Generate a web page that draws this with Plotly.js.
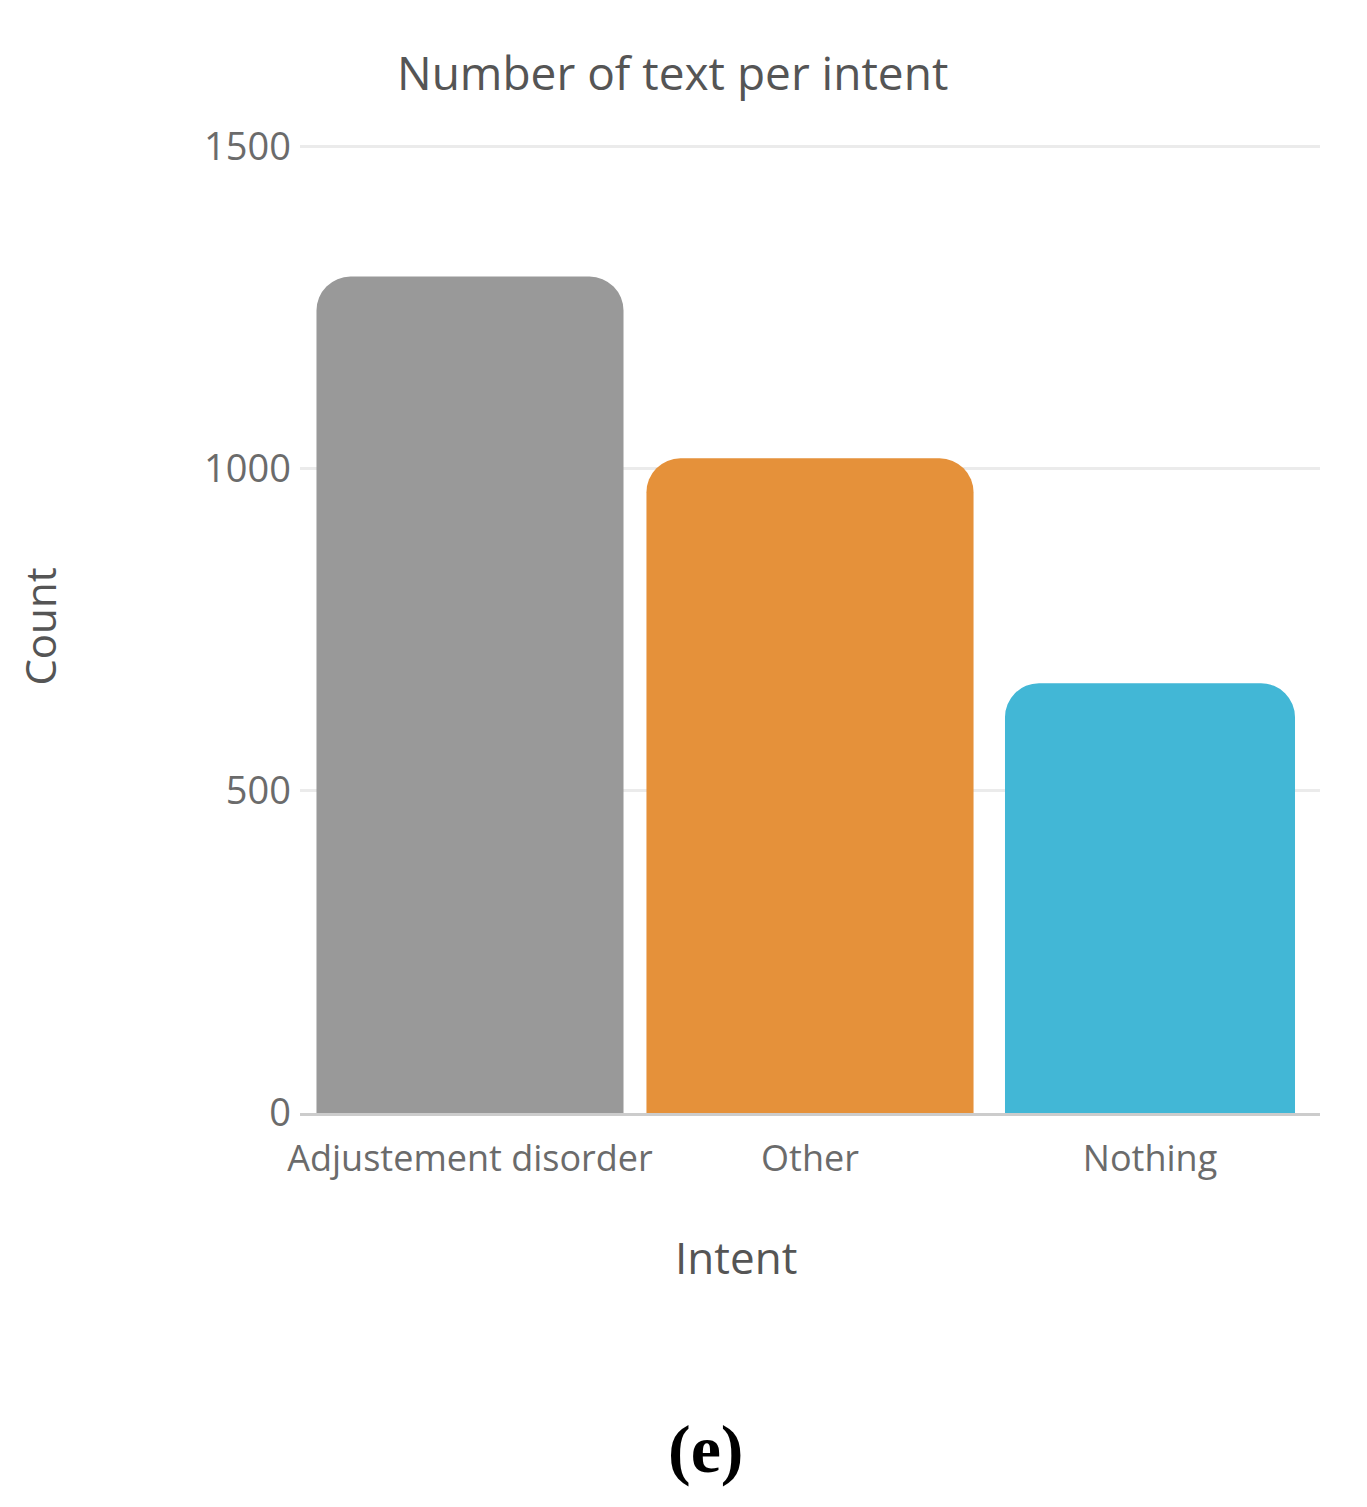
<!DOCTYPE html>
<html>
<head>
<meta charset="utf-8">
<script src="https://cdn.plot.ly/plotly-3.0.1.min.js"></script>
<style>
  body { margin: 0; background: white; }
  #graph { width: 1367px; height: 1507px; }
</style>
</head>
<body>
<div id="graph"></div>
<script>
// dados do gráfico
const intents = ['Adjustement disorder', 'Other', 'Nothing'];
const counts = [1298, 1016, 667];
const barColors = ['#999999', '#E5913A', '#42B7D6'];
const yTicks = [0, 500, 1000, 1500];

const trace = {
    x: intents,
    y: counts,
    type: 'bar',
    // larguras levemente diferentes, como na figura original
    width: [0.903, 0.962, 0.853],
    marker: { color: barColors, cornerradius: 34 },
    hoverinfo: 'x+y'
};

const textFont = { family: 'Open Sans, sans-serif', color: '#6b6b6b' };
const titleFont = { family: 'Open Sans, sans-serif', color: '#555555' };

const layout = {
    width: 1367,
    height: 1507,
    margin: { l: 300, r: 47, t: 140, b: 394 },
    paper_bgcolor: 'white',
    plot_bgcolor: 'white',
    showlegend: false,
    xaxis: {
        tickfont: { ...textFont, size: 36 },
        showline: true,
        linecolor: '#cccccc',
        linewidth: 3,
        showgrid: false,
        ticks: '',
        ticklabelstandoff: 12
    },
    yaxis: {
        title: { text: 'Count', font: { ...titleFont, size: 42 }, standoff: 134 },
        tickfont: { ...textFont, size: 38 },
        range: [0, 1510],
        tickvals: yTicks,
        ticktext: yTicks.map(String),
        showgrid: true,
        gridcolor: '#ebebeb',
        gridwidth: 3,
        zeroline: false,
        ticks: '',
        ticklabelstandoff: 8
    },
    annotations: [
        {
            // título do gráfico
            text: 'Number of text per intent',
            xref: 'paper', yref: 'paper',
            x: 0.365, y: 1.07,
            xanchor: 'center', yanchor: 'middle',
            showarrow: false,
            font: { ...titleFont, size: 46 }
        },
        {
            // título do eixo x
            text: 'Intent',
            xref: 'paper', yref: 'paper',
            x: 0.427, y: -0.148,
            xanchor: 'center', yanchor: 'middle',
            showarrow: false,
            font: { ...titleFont, size: 44 }
        },
        {
            text: '<b>(e)</b>',
            xref: 'paper', yref: 'paper',
            x: 0.398, y: -0.345,
            xanchor: 'center', yanchor: 'middle',
            showarrow: false,
            font: { family: 'Liberation Serif, serif', size: 68, color: '#000000' }
        }
    ]
};

Plotly.newPlot('graph', [trace], layout, { displayModeBar: false });
</script>
</body>
</html>
